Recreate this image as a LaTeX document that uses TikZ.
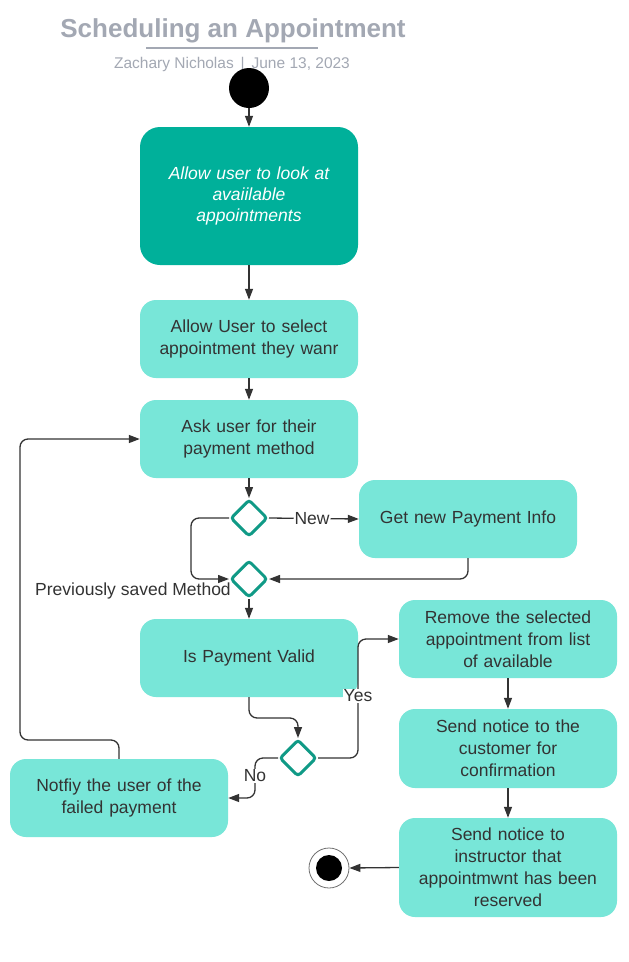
\documentclass[tikz,border=0pt]{standalone}
\usepackage{fontspec}
\setmainfont{Liberation Sans}
\usetikzlibrary{arrows.meta,shapes.geometric}
\definecolor{boxfill}{HTML}{78E6D8}
\definecolor{darkbox}{HTML}{00B09A}
\definecolor{dstroke}{HTML}{109A86}
\definecolor{titlegray}{HTML}{A3A8B3}
\definecolor{linegray}{HTML}{333333}
\definecolor{txt}{HTML}{333333}
\begin{document}
\begin{tikzpicture}[x=1pt,y=-1pt,
  box/.style={rectangle, rounded corners=16pt, fill=boxfill, minimum width=218pt, minimum height=78pt, text width=205pt, align=center, text=txt, font=\fontsize{17.5}{22}\selectfont, inner sep=0pt},
  dia/.style={diamond, draw=dstroke, line width=3pt, fill=white, minimum width=37pt, minimum height=37pt, inner sep=0pt, rounded corners=3pt},
  conn/.style={draw=linegray, line width=1.3pt, rounded corners=8pt, -{Triangle[length=11pt,width=8pt]}},
  lbl/.style={font=\fontsize{17.5}{22}\selectfont, text=txt, fill=white, inner sep=1pt}]
\useasboundingbox[fill=white] (0,0) rectangle (629,962);
% title
\node[font=\bfseries\fontsize{26}{30}\selectfont, text=titlegray, anchor=base] (title) at (233,37) {Scheduling an Appointment};
\draw[titlegray, line width=2pt] (146,48) -- (318,48);
\node[font=\fontsize{15.5}{18}\selectfont, text=titlegray, anchor=base] (sub) at (232,68) {Zachary Nicholas \,|\, June 13, 2023};
% start / end
\node[circle, fill=black, minimum size=40pt, inner sep=0pt] (start) at (249,88) {};
\node[circle, draw=linegray!70, line width=0.8pt, fill=white, minimum size=40pt, inner sep=0pt] (endo) at (329,868) {};
\node[circle, fill=black, minimum size=26pt, inner sep=0pt] (endi) at (329,868) {};
% boxes
\node[box, fill=darkbox, text=white, minimum height=138pt, rounded corners=20pt, font=\itshape\fontsize{17.5}{21}\selectfont] (b1) at (249,196) {Allow user to look at\\avaiilable\\appointments};
\node[box] (b2) at (249,339) {Allow User to select\\appointment they wanr};
\node[box] (b3) at (249,439) {Ask user for their\\payment method};
\node[dia] (d1) at (249,518) {};
\node[box] (getnew) at (468,519) {Get new Payment Info};
\node[dia] (d2) at (249,579) {};
\node[box] (valid) at (249,658) {Is Payment Valid};
\node[box] (remove) at (508,639) {Remove the selected\\appointment from list\\of available};
\node[box, minimum height=79pt] (cust) at (508,748.5) {Send notice to the\\customer for\\confirmation};
\node[box, minimum height=99pt] (instr) at (508,867.5) {Send notice to\\instructor that\\appointmwnt has been\\reserved};
\node[dia] (d3) at (298,758) {};
\node[box] (notify) at (119,798) {Notfiy the user of the\\failed payment};
% connectors
\draw[conn] (start) -- (b1);
\draw[conn] (b1) -- (b2);
\draw[conn] (b2) -- (b3);
\draw[conn] (b3) -- (d1);
\draw[conn] (d1.east) -- (getnew.west) node[lbl, pos=0.48] (lnew) {New};
\draw[conn] (d1.west) -- (191,518) -- (191,579) -- (d2.west);
\node[font=\fontsize{17.5}{22}\selectfont, text=txt] (lprev) at (133,591) {Previously saved Method};
\draw[conn] (getnew.south) |- (d2.east);
\draw[conn] (d2) -- (valid);
\draw[conn] (valid.south) -- (249,718) -| (d3.north);
\draw[conn] (d3.east) -- (358,758) -- (358,639) -- (remove.west);
\node[lbl] (lyes) at (358,696) {Yes};
\draw[conn] (d3.west) -- (255,758) -- (255,798) -- (notify.east);
\node[lbl] (lno) at (255,776) {No};
\draw[conn] (notify.north) |- (20,740) |- (b3.west);
\draw[conn] (remove) -- (cust);
\draw[conn] (cust) -- (instr);
\draw[conn] (instr.west) -- (endo.east);
\end{tikzpicture}
\end{document}
